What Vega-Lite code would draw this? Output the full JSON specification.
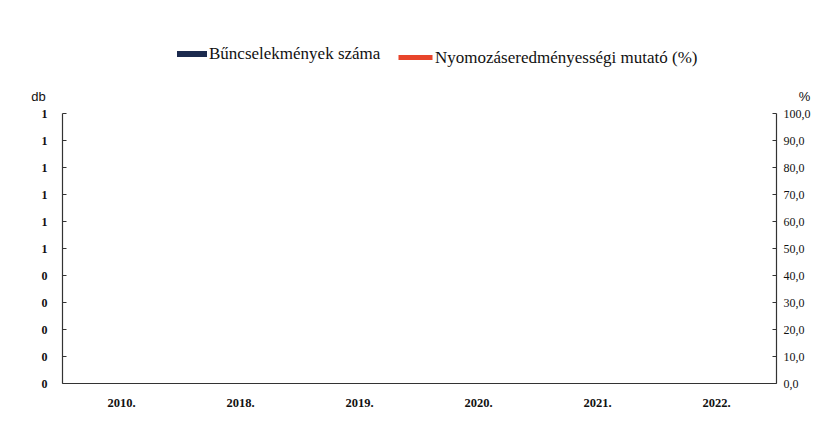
{
  "$schema": "https://vega.github.io/schema/vega-lite/v6.json",
  "autosize": "none",
  "width": 714,
  "height": 270,
  "padding": {"left": 62, "top": 113, "right": 40, "bottom": 40},
  "background": "white",
  "data": {"values": [
    {"year": "2010.", "count": null, "pct": null},
    {"year": "2018.", "count": null, "pct": null},
    {"year": "2019.", "count": null, "pct": null},
    {"year": "2020.", "count": null, "pct": null},
    {"year": "2021.", "count": null, "pct": null},
    {"year": "2022.", "count": null, "pct": null}
  ]},
  "encoding": {
    "x": {
      "field": "year", "type": "nominal", "sort": null,
      "scale": {"domain": ["2010.", "2018.", "2019.", "2020.", "2021.", "2022."], "paddingInner": 0.4, "paddingOuter": 0.2},
      "axis": {"title": null, "labelAngle": 0, "ticks": false, "labelPadding": 13, "labelFont": "Liberation Serif", "labelFontWeight": "bold", "labelFontSize": 12.5, "labelColor": "#111", "domainColor": "#333", "domainWidth": 1.2}
    }
  },
  "layer": [
    {
      "mark": {"type": "bar"},
      "encoding": {
        "y": {
          "field": "count", "type": "quantitative",
          "scale": {"domain": [0, 1], "nice": false, "zero": true},
          "axis": {
            "orient": "left", "values": [0, 0.1, 0.2, 0.3, 0.4, 0.5, 0.6, 0.7, 0.8, 0.9, 1], "format": ".0f",
            "title": "db", "titleAngle": 0, "titleAnchor": "end", "titleAlign": "center", "titleBaseline": "bottom", "titleX": -24, "titleY": -10,
            "titleFont": "Liberation Sans", "titleFontSize": 13, "titleFontWeight": "normal", "titleColor": "#111",
            "grid": false, "tickSize": -4, "tickColor": "#333", "labelPadding": 22, "labelAlign": "center",
            "labelFont": "Liberation Serif", "labelFontSize": 12, "labelFontWeight": "bold", "labelColor": "#111",
            "domainColor": "#333", "domainWidth": 1.2
          }
        },
        "fill": {
          "datum": "Bűncselekmények száma",
          "scale": {"domain": ["Bűncselekmények száma"], "range": ["#1b2a4e"]},
          "legend": {"title": null, "orient": "none", "legendX": 114, "legendY": -75, "symbolType": "M-1,-0.2H1V0.2H-1Z", "symbolSize": 900, "labelFont": "Liberation Serif", "labelFontSize": 17, "labelColor": "#111", "labelOffset": 1, "labelLimit": 0}
        }
      }
    },
    {
      "mark": {"type": "line", "strokeWidth": 3},
      "encoding": {
        "y": {
          "field": "pct", "type": "quantitative",
          "scale": {"domain": [0, 100], "nice": false, "zero": true},
          "axis": {
            "orient": "right", "values": [0, 10, 20, 30, 40, 50, 60, 70, 80, 90, 100],
            "labelExpr": "replace(format(datum.value, '.1f'), '.', ',')",
            "title": "%", "titleAngle": 0, "titleAnchor": "end", "titleAlign": "center", "titleBaseline": "bottom", "titleX": 28, "titleY": -10,
            "titleFont": "Liberation Sans", "titleFontSize": 13, "titleFontWeight": "normal", "titleColor": "#111",
            "grid": false, "tickSize": -4, "tickColor": "#333", "labelPadding": 11,
            "labelFont": "Liberation Serif", "labelFontSize": 12, "labelColor": "#111",
            "domainColor": "#333", "domainWidth": 1.2
          }
        },
        "stroke": {
          "datum": "Nyomozáseredményességi mutató (%)",
          "scale": {"domain": ["Nyomozáseredményességi mutató (%)"], "range": ["#e8452b"]},
          "legend": {"title": null, "orient": "none", "legendX": 334, "legendY": -75, "symbolType": "stroke", "symbolSize": 1156, "symbolStrokeWidth": 5, "labelFont": "Liberation Serif", "labelFontSize": 17, "labelColor": "#111", "labelOffset": 0, "labelLimit": 0}
        }
      }
    }
  ],
  "resolve": {"scale": {"y": "independent"}},
  "config": {"view": {"stroke": null}}
}
